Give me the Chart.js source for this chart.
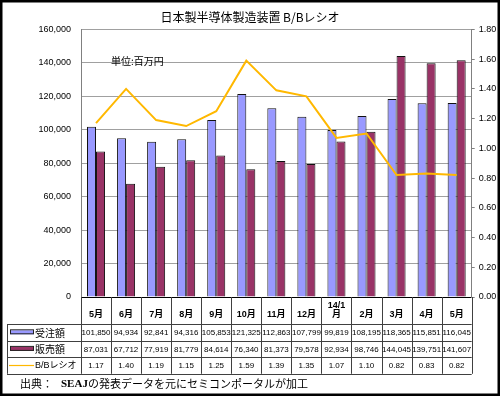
<!DOCTYPE html>
<html>
<head>
<meta charset="utf-8">
<script src="https://cdn.jsdelivr.net/npm/chart.js@4/dist/chart.umd.min.js"></script>
<style>
  html, body { margin: 0; padding: 0; background: #fff; }
  #wrap { width: 500px; height: 396px; position: relative; }
</style>
</head>
<body>
<div id="wrap"><canvas id="c"></canvas></div>
<script>
const months = ['5月', '6月', '7月', '8月', '9月', '10月', '11月', '12月', ['14/1', '月'], '2月', '3月', '4月', '5月']
const orders = [101850, 94934, 92841, 94316, 105853, 121325, 112863, 107799, 99819, 108195, 118365, 115851, 116045]
const sales = [87031, 67712, 77919, 81779, 84614, 76340, 81373, 79578, 92934, 98746, 144045, 139751, 141607]
const bbRatio = [1.17, 1.40, 1.19, 1.15, 1.25, 1.59, 1.39, 1.35, 1.07, 1.10, 0.82, 0.83, 0.82]

const seriesNames = ['受注額', '販売額', 'B/Bレシオ']
const titleText = '日本製半導体製造装置 B/Bレシオ'
const unitNote = '単位:百万円'
const sourceHead = '出典：'
const sourceOrg = 'SEAJ'
const sourceBody = 'の発表データを元にセミコンポータルが加工'

const blue = '#9999FF'
const maroon = '#993366'
const orange = '#FFB800'

const fmt = v => v.toLocaleString('en-US')

// draws the data table under the axis, the frame and notes
const tablePlugin = {
    id: 'dataTable',
    afterDraw(chart) {
        const ctx = chart.ctx
        const xs = chart.scales.x
        const area = chart.chartArea
        const n = months.length
        const colW = xs.width / n
        const top = area.bottom
        const headBottom = top + 27
        const rowH = 16.6
        const tableLeft = 7
        const rows = [orders.map(fmt), sales.map(fmt), bbRatio.map(v => v.toFixed(2))]
        const tableBottom = headBottom + rowH * rows.length

        ctx.save()
        ctx.strokeStyle = '#404040'
        ctx.lineWidth = 1

        // vertical separators
        for (let i = 0; i <= n; i++) {
            const x = Math.round(xs.left + colW * i) + 0.5
            ctx.beginPath()
            ctx.moveTo(x, top)
            ctx.lineTo(x, tableBottom)
            ctx.stroke()
        }
        ctx.beginPath()
        ctx.moveTo(tableLeft + 0.5, headBottom)
        ctx.lineTo(tableLeft + 0.5, tableBottom)
        ctx.stroke()

        // horizontal lines
        for (let r = 0; r <= rows.length; r++) {
            const y = Math.round(headBottom + rowH * r) + 0.5
            ctx.beginPath()
            ctx.moveTo(tableLeft, y)
            ctx.lineTo(xs.right, y)
            ctx.stroke()
        }

        // cell values
        ctx.fillStyle = '#000'
        ctx.textAlign = 'center'
        ctx.textBaseline = 'middle'
        ctx.font = '8px "Liberation Sans", Arial, sans-serif'
        rows.forEach((vals, r) => {
            const cy = headBottom + rowH * r + rowH / 2 + 0.5
            vals.forEach((v, i) => {
                ctx.fillText(v, xs.getPixelForValue(i), cy)
            })
        })

        // legend keys
        rows.forEach((vals, r) => {
            const cy = headBottom + rowH * r + rowH / 2
            if (r < 2) {
                ctx.fillStyle = r === 0 ? blue : maroon
                ctx.fillRect(10, cy - 2, 24, 4)
                ctx.strokeStyle = '#222'
                ctx.strokeRect(10.5, cy - 2.5, 23, 4)
                ctx.fillStyle = '#000'
                ctx.textAlign = 'left'
                ctx.font = '10px "Noto Sans CJK JP", sans-serif'
                ctx.fillText(seriesNames[r], 35, cy + 0.5)
            } else {
                ctx.strokeStyle = orange
                ctx.lineWidth = 1.2
                ctx.beginPath()
                ctx.moveTo(9, cy)
                ctx.lineTo(34, cy)
                ctx.stroke()
                ctx.fillStyle = '#000'
                ctx.textAlign = 'left'
                ctx.font = '9px "Liberation Sans", "Noto Sans CJK JP", sans-serif'
                ctx.fillText(seriesNames[r], 35, cy + 0.5)
            }
        })

        // unit note
        ctx.font = '10px "Noto Sans CJK JP", sans-serif'
        ctx.textAlign = 'left'
        ctx.fillStyle = '#000'
        ctx.fillText(unitNote, 111, 61)

        // source line
        ctx.font = '11px "Noto Sans CJK JP", sans-serif'
        ctx.fillText(sourceHead, 20, 384)
        ctx.font = 'bold 11px "Liberation Serif", serif'
        ctx.fillText(sourceOrg, 61, 384)
        const orgW = ctx.measureText(sourceOrg).width
        ctx.font = '11px "Noto Sans CJK JP", sans-serif'
        ctx.fillText(sourceBody, 61 + orgW, 384)

        // outer frame
        ctx.strokeStyle = '#000'
        ctx.lineWidth = 2.5
        ctx.strokeRect(1.25, 1.25, chart.width - 2.5, chart.height - 2.5)
        ctx.restore()
    }
}

new Chart(document.getElementById('c'), {
    type: 'bar',
    data: {
        labels: months,
        datasets: [
            {
                type: 'line',
                label: seriesNames[2],
                data: bbRatio,
                yAxisID: 'y1',
                borderColor: orange,
                backgroundColor: orange,
                borderWidth: 2,
                pointRadius: 0,
                tension: 0,
                order: 0
            },
            {
                label: seriesNames[0],
                data: orders,
                yAxisID: 'y',
                backgroundColor: blue,
                borderColor: '#111',
                borderWidth: 1,
                categoryPercentage: 0.6,
                barPercentage: 1,
                order: 1
            },
            {
                label: seriesNames[1],
                data: sales,
                yAxisID: 'y',
                backgroundColor: maroon,
                borderColor: '#111',
                borderWidth: 1,
                categoryPercentage: 0.6,
                barPercentage: 1,
                order: 1
            }
        ]
    },
    options: {
        responsive: true,
        maintainAspectRatio: false,
        animation: false,
        locale: 'en-US',
        layout: { padding: { top: 0, left: 0, right: 0, bottom: 72 } },
        plugins: {
            legend: { display: false },
            tooltip: { enabled: false },
            title: {
                display: true,
                text: titleText,
                color: '#000',
                font: { size: 12, weight: 'normal', family: '"Noto Sans CJK JP", sans-serif' },
                padding: { top: 10, bottom: 5 }
            }
        },
        scales: {
            x: {
                grid: { display: false },
                border: { color: '#000' },
                ticks: {
                    color: '#000',
                    font: { size: 9, weight: 'bold', lineHeight: 1, family: '"Liberation Sans", "Noto Sans CJK JP", sans-serif' },
                    padding: 1,
                    crossAlign: 'far',
                    maxRotation: 0,
                    autoSkip: false
                },
                afterFit(scale) { scale.height = 27 }
            },
            y: {
                position: 'left',
                min: 0,
                max: 160000,
                grid: { color: '#a0a0a0', drawTicks: false },
                border: { color: '#808080' },
                ticks: {
                    stepSize: 20000,
                    color: '#000',
                    padding: 10,
                    font: { size: 9, family: '"Liberation Sans", Arial, sans-serif' }
                },
                afterFit(scale) { scale.width = 81 }
            },
            y1: {
                position: 'right',
                min: 0,
                max: 1.8,
                grid: { drawOnChartArea: false, tickLength: 3, color: '#808080' },
                border: { color: '#808080' },
                ticks: {
                    stepSize: 0.2,
                    color: '#000',
                    padding: 4,
                    font: { size: 9, family: '"Liberation Sans", Arial, sans-serif' },
                    callback: v => v.toFixed(2)
                },
                afterFit(scale) { scale.width = 28.3 }
            }
        }
    },
    plugins: [tablePlugin]
})
</script>
</body>
</html>
